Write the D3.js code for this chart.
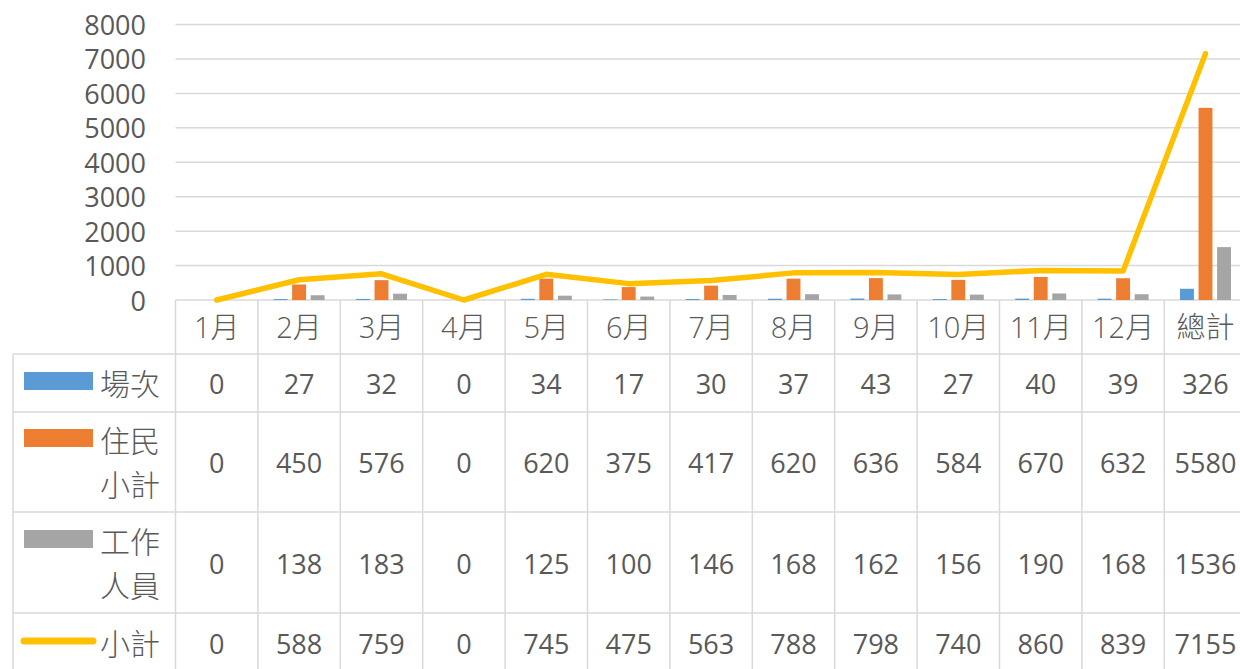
<!DOCTYPE html>
<html>
<head>
<meta charset="utf-8">
<script src="https://cdn.jsdelivr.net/npm/d3@7"></script>
<style>
  html, body { margin: 0; padding: 0; background: #fff; }
  svg { display: block; }
  text { fill: #595959; font-family: "Open Sans", "Noto Sans CJK TC", sans-serif; }
  text.cat, text.lab { font-weight: 300; }
</style>
</head>
<body>
<svg id="chart" width="1240" height="669"></svg>
<script>
// categories and series
const categories = ['1月', '2月', '3月', '4月', '5月', '6月', '7月', '8月', '9月', '10月', '11月', '12月', '總計'];
const sessions  = [0, 27, 32, 0, 34, 17, 30, 37, 43, 27, 40, 39, 326];
const residents = [0, 450, 576, 0, 620, 375, 417, 620, 636, 584, 670, 632, 5580];
const staff     = [0, 138, 183, 0, 125, 100, 146, 168, 162, 156, 190, 168, 1536];
const subtotal  = [0, 588, 759, 0, 745, 475, 563, 788, 798, 740, 860, 839, 7155];
const yTicks = [0, 1000, 2000, 3000, 4000, 5000, 6000, 7000, 8000];

const barSeries = [
  {name: '場次', lines: ['場次'], values: sessions, color: '#5B9BD5'},
  {name: '住民小計', lines: ['住民', '小計'], values: residents, color: '#ED7D31'},
  {name: '工作人員', lines: ['工作', '人員'], values: staff, color: '#A5A5A5'}
];
const lineSeries = {name: '小計', lines: ['小計'], values: subtotal, color: '#FFC000'};

const svg = d3.select('#chart');
const gridColor = '#D9D9D9';

const plotLeft = 175.5, colW = 82.4;
const x = d3.scaleBand()
    .domain(categories)
    .range([plotLeft, plotLeft + colW * categories.length]);
const y = d3.scaleLinear().domain([0, 8000]).range([300, 24.5]);

const groupW = x.bandwidth() * 0.675;
const x1 = d3.scaleBand()
    .domain(barSeries.map(d => d.name))
    .range([(x.bandwidth() - groupW) / 2, (x.bandwidth() + groupW) / 2])
    .paddingInner(0.25)
    .paddingOuter(0.125);

// gridlines
svg.append('g').selectAll('line').data(yTicks).join('line')
    .attr('x1', plotLeft).attr('x2', x.range()[1])
    .attr('y1', d => y(d)).attr('y2', d => y(d))
    .attr('stroke', gridColor).attr('stroke-width', 1.5);

// y tick labels
svg.append('g').selectAll('text').data(yTicks).join('text')
    .attr('x', 146).attr('y', d => y(d))
    .attr('text-anchor', 'end').attr('dominant-baseline', 'central')
    .attr('font-size', 27)
    .text(d => d);

// bars
barSeries.forEach(s => {
  svg.append('g').selectAll('rect').data(s.values).join('rect')
      .attr('x', (d, i) => x(categories[i]) + x1(s.name))
      .attr('width', x1.bandwidth())
      .attr('y', d => y(d))
      .attr('height', d => y(0) - y(d))
      .attr('fill', s.color);
});

// line
const line = d3.line()
    .x((d, i) => x(categories[i]) + x.bandwidth() / 2)
    .y(d => y(d));
svg.append('path')
    .attr('d', line(lineSeries.values))
    .attr('fill', 'none')
    .attr('stroke', lineSeries.color)
    .attr('stroke-width', 5.5)
    .attr('stroke-linejoin', 'round')
    .attr('stroke-linecap', 'round');

// data table
const tableLeft = 13;
const rowEdges = [354, 412, 512, 613, 672];
const rows = [...barSeries, lineSeries];
const table = svg.append('g');

// horizontal lines
table.selectAll('line.h').data(rowEdges.slice(0, 4)).join('line')
    .attr('class', 'h')
    .attr('x1', tableLeft).attr('x2', x.range()[1])
    .attr('y1', d => d).attr('y2', d => d)
    .attr('stroke', gridColor).attr('stroke-width', 1.5);
// vertical lines for category columns
table.selectAll('line.v').data(categories.concat(['end'])).join('line')
    .attr('class', 'v')
    .attr('x1', (d, i) => plotLeft + i * x.step()).attr('x2', (d, i) => plotLeft + i * x.step())
    .attr('y1', 300).attr('y2', 672)
    .attr('stroke', gridColor).attr('stroke-width', 1.5);
table.append('line')
    .attr('x1', tableLeft).attr('x2', tableLeft)
    .attr('y1', rowEdges[0]).attr('y2', 672)
    .attr('stroke', gridColor).attr('stroke-width', 1.5);

// category labels
table.selectAll('text.cat').data(categories).join('text')
    .attr('class', 'cat')
    .attr('x', d => x(d) + x.bandwidth() / 2)
    .attr('y', 326)
    .attr('text-anchor', 'middle').attr('dominant-baseline', 'central')
    .attr('font-size', 29)
    .text(d => d);

// table rows
const rowCenters = [383, 462, 563, 643];
rows.forEach((s, r) => {
  const cy = rowCenters[r];
  const g = table.append('g');
  g.selectAll('text.val').data(s.values).join('text')
      .attr('class', 'val')
      .attr('x', (d, i) => x(categories[i]) + x.bandwidth() / 2)
      .attr('y', cy)
      .attr('text-anchor', 'middle').attr('dominant-baseline', 'central')
      .attr('font-size', 27)
      .text(d => d);

  const lineGap = 44;
  const top = cy - (s.lines.length - 1) * lineGap / 2;
  g.selectAll('text.lab').data(s.lines).join('text')
      .attr('class', 'lab')
      .attr('x', 100)
      .attr('y', (d, i) => top + i * lineGap)
      .attr('dominant-baseline', 'central')
      .attr('font-size', 30)
      .text(d => d);

  if (s === lineSeries) {
    g.append('line')
        .attr('x1', 24).attr('x2', 93)
        .attr('y1', top - 2).attr('y2', top - 2)
        .attr('stroke', s.color).attr('stroke-width', 7)
        .attr('stroke-linecap', 'round');
  } else {
    g.append('rect')
        .attr('x', 24).attr('width', 69)
        .attr('y', top - 11).attr('height', 18)
        .attr('fill', s.color);
  }
});
</script>
</body>
</html>
